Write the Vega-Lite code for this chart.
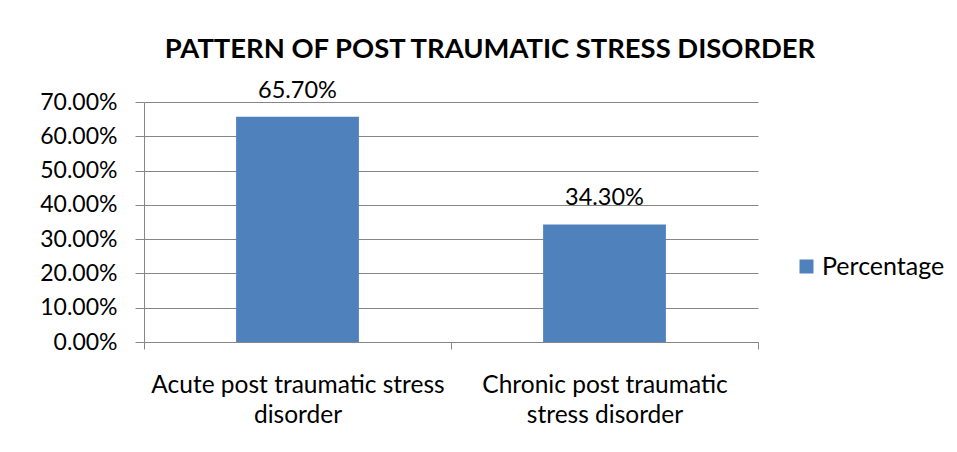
{
  "$schema": "https://vega.github.io/schema/vega-lite/v6.json",
  "autosize": {"type": "none"},
  "width": 614,
  "height": 240,
  "padding": {"left": 144, "top": 102, "right": 199, "bottom": 110},
  "background": "white",
  "config": {"view": {"stroke": null}, "font": "Lato"},
  "title": {
    "text": "PATTERN OF POST TRAUMATIC STRESS DISORDER",
    "font": "Lato",
    "fontSize": 27.4,
    "fontWeight": "bold",
    "color": "#000000",
    "anchor": "middle",
    "dx": 39,
    "offset": 15
  },
  "data": {
    "values": [
      {"category": "Acute post traumatic stress disorder", "value": 0.657},
      {"category": "Chronic post traumatic stress disorder", "value": 0.343}
    ]
  },
  "encoding": {
    "x": {
      "field": "category",
      "type": "nominal",
      "sort": null,
      "scale": {"paddingInner": 0, "paddingOuter": 0},
      "axis": {
        "title": null,
        "labelAngle": 0,
        "labelFont": "Lato",
        "labelFontSize": 24.5,
        "labelColor": "#000000",
        "labelPadding": 24,
        "labelLineHeight": 30,
        "labelLimit": 400,
        "labelExpr": "datum.label == 'Acute post traumatic stress disorder' ? ['Acute post traumatic stress', 'disorder'] : datum.label == 'Chronic post traumatic stress disorder' ? ['Chronic post traumatic', 'stress disorder'] : ''",
        "tickBand": "extent",
        "tickSize": 7,
        "tickColor": "#868686",
        "domainColor": "#868686",
        "grid": false
      }
    },
    "y": {
      "field": "value",
      "type": "quantitative",
      "scale": {"domain": [0, 0.7], "nice": false},
      "axis": {
        "title": null,
        "values": [0, 0.1, 0.2, 0.3, 0.4, 0.5, 0.6, 0.7],
        "format": ".2%",
        "labelFont": "Lato",
        "labelFontSize": 23,
        "labelColor": "#000000",
        "labelPadding": 18,
        "tickSize": 9,
        "tickColor": "#868686",
        "domainColor": "#868686",
        "grid": true,
        "gridColor": "#868686",
        "gridOpacity": 1
      }
    }
  },
  "layer": [
    {
      "mark": {"type": "bar", "width": {"band": 0.4}},
      "encoding": {
        "color": {
          "datum": "Percentage",
          "scale": {"range": ["#4F81BD"]},
          "legend": {
            "title": null,
            "orient": "none",
            "legendX": 650,
            "legendY": 152,
            "symbolType": "square",
            "symbolSize": 196,
            "symbolStrokeWidth": 0,
            "labelFont": "Lato",
            "labelFontSize": 25,
            "labelColor": "#000000",
            "labelOffset": 3
          }
        }
      }
    },
    {
      "mark": {"type": "text", "baseline": "bottom", "dy": -14, "fontSize": 23.5, "font": "Lato", "color": "#000000"},
      "encoding": {
        "text": {"field": "value", "type": "quantitative", "format": ".2%"}
      }
    }
  ]
}
